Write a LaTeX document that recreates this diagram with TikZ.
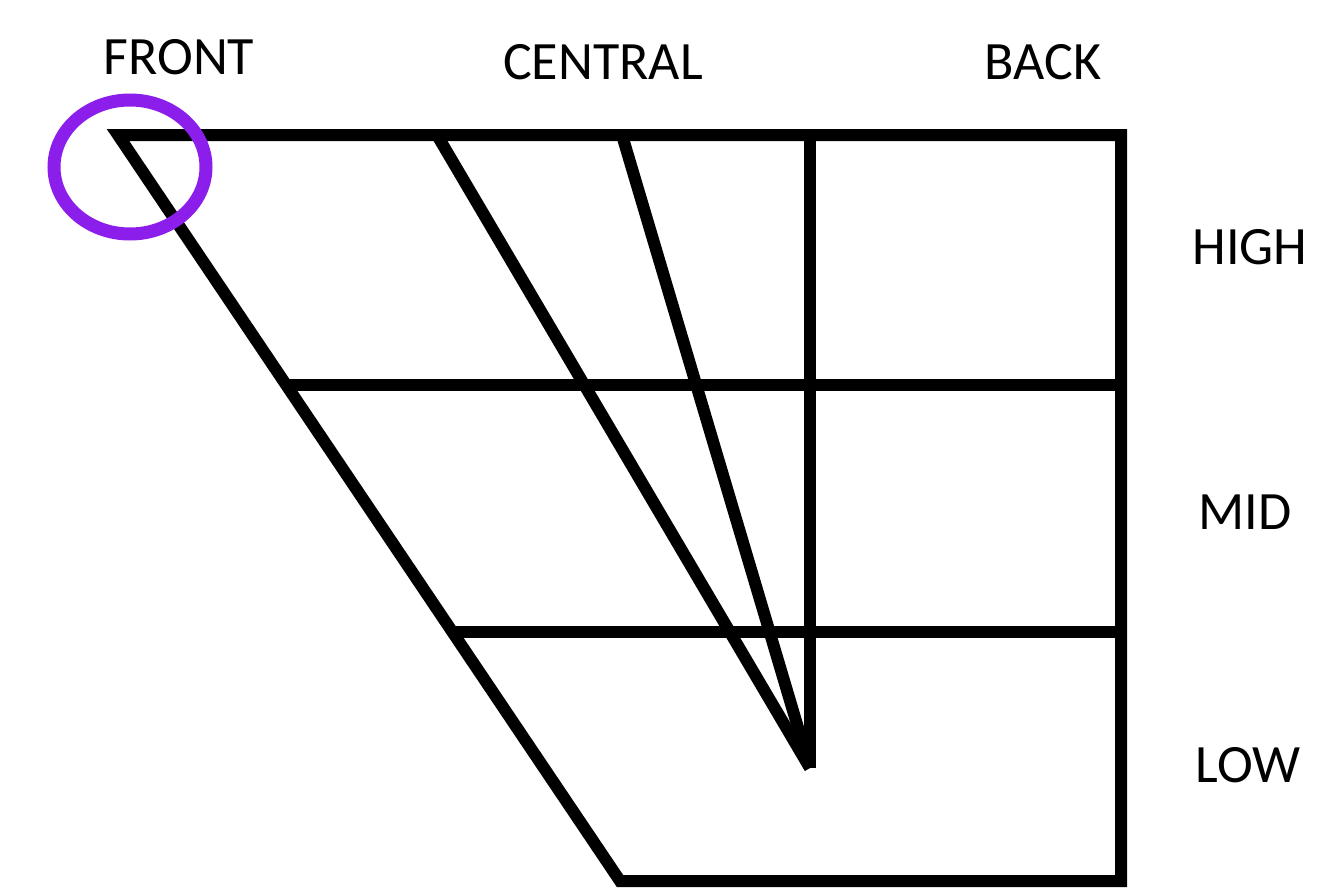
\documentclass[tikz,border=0pt]{standalone}
\usepackage{fontspec}
\setmainfont{Carlito}
\usetikzlibrary{shapes.geometric}
\definecolor{ringpurple}{RGB}{140,30,235}
\begin{document}
\begin{tikzpicture}[x=1pt,y=-1pt,
  edge/.style={line width=12pt,black,line cap=butt,line join=miter},
  lbl/.style={inner sep=0pt,font=\fontsize{54}{60}\selectfont}]
\useasboundingbox (0,0) rectangle (1334,894);
% corner points
\coordinate (tl) at (118,135);
\coordinate (tr) at (1121,135);
\coordinate (br) at (1121,881);
\coordinate (bl) at (620,881);
\coordinate (hl) at (286,385);
\coordinate (hr) at (1121,385);
\coordinate (ml) at (454,632);
\coordinate (mr) at (1121,632);
\coordinate (c1) at (437,135);
\coordinate (c2) at (622,135);
\coordinate (c3) at (810,135);
\coordinate (tip) at (810,768);
% outline
\draw[edge] (tl) -- (tr) -- (br) -- (bl) -- cycle;
\draw[edge] (hl) -- (hr);
\draw[edge] (ml) -- (mr);
\draw[edge] (c1) -- (tip);
\draw[edge] (c2) -- (tip);
\draw[edge] (c3) -- (tip);
% circle
\node[draw=ringpurple,line width=13pt,ellipse,minimum width=152pt,minimum height=134pt,inner sep=0pt] (ring) at (130,167) {};
% labels
\node[lbl] (front) at (179,57) {FRONT};
\node[lbl] (central) at (603,62) {CENTRAL};
\node[lbl] (back) at (1043,62) {BACK};
\node[lbl] (high) at (1250,247) {HIGH};
\node[lbl] (mid) at (1245,512) {MID};
\node[lbl] (low) at (1248,765) {LOW};
\end{tikzpicture}
\end{document}
